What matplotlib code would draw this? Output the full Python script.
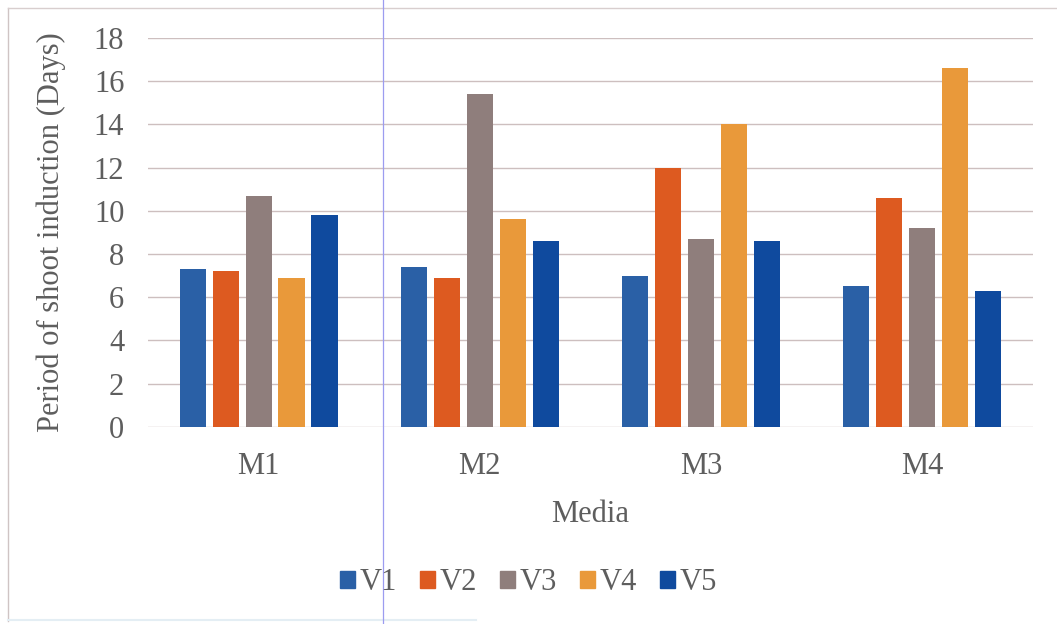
import numpy as np
import matplotlib
matplotlib.use("Agg")
import matplotlib.pyplot as plt
from matplotlib.lines import Line2D

media = ["M1", "M2", "M3", "M4"]
varieties = ["V1", "V2", "V3", "V4", "V5"]
v1 = [7.3, 7.4, 7.0, 6.5]
v2 = [7.2, 6.9, 12.0, 10.6]
v3 = [10.7, 15.4, 8.7, 9.2]
v4 = [6.9, 9.6, 14.0, 16.6]
v5 = [9.8, 8.6, 8.6, 6.3]
series = [v1, v2, v3, v4, v5]
colors = ["#2A60A6", "#DD5A20", "#8F7E7C", "#E9993A", "#0F4A9E"]
yticks = [0, 2, 4, 6, 8, 10, 12, 14, 16, 18]

plt.rcParams["font.family"] = ["Liberation Serif", "DejaVu Serif"]
text_color = "#5E5E5E"
fs = 22

fig = plt.figure(figsize=(10.57, 6.24), dpi=100)
ax = fig.add_axes([0.140, 0.316, 0.837, 0.623])

x = np.arange(len(media))
pitch = 0.149
width = 0.118
for i, (vals, col, name) in enumerate(zip(series, colors, varieties)):
    ax.bar(x + (i - 2) * pitch, vals, width=width, color=col, label=name, zorder=3)

ax.set_xlim(-0.5, len(media) - 0.5)
ax.set_ylim(0, 18)
ax.set_yticks(yticks)
ax.set_yticklabels([str(t) for t in yticks])
ax.set_xticks(x)
ax.set_xticklabels(media)
ax.tick_params(axis="both", length=0, labelsize=fs, colors=text_color)
ax.tick_params(axis="y", pad=17)
ax.tick_params(axis="x", pad=18)
ax.grid(axis="y", color="#CDBFBF", linewidth=1.0, zorder=0)
for s in ax.spines.values():
    s.set_visible(False)

ax.set_ylabel("Period of shoot induction (Days)", fontsize=fs, color=text_color, labelpad=20)
ax.set_xlabel("Media", fontsize=fs, color=text_color, labelpad=14)

handles = [plt.Rectangle((0, 0), 1, 1, color=c) for c in colors]
leg = fig.legend(handles, varieties, loc="center", bbox_to_anchor=(0.500, 0.066),
                 ncol=5, frameon=False, fontsize=fs, handlelength=0.5, handleheight=0.5,
                 handletextpad=0.15, columnspacing=0.75)
for t in leg.get_texts():
    t.set_color(text_color)

# chart frame and thin vertical rule
fig.add_artist(Line2D([8 / 1057, 8 / 1057], [0.005, 1 - 8 / 624], transform=fig.transFigure,
                      color="#CFC4C4", linewidth=1.0))
fig.add_artist(Line2D([8 / 1057, 1.0], [1 - 8 / 624, 1 - 8 / 624], transform=fig.transFigure,
                      color="#D8CECE", linewidth=1.0))
fig.add_artist(Line2D([8 / 1057, 0.45], [4 / 624, 4 / 624], transform=fig.transFigure,
                      color="#E4EEF4", linewidth=1.5))
fig.add_artist(Line2D([383 / 1057, 383 / 1057], [0, 1], transform=fig.transFigure,
                      color="#9C9CF0", linewidth=0.9))

fig.savefig("out.png", dpi=100, facecolor="white")
